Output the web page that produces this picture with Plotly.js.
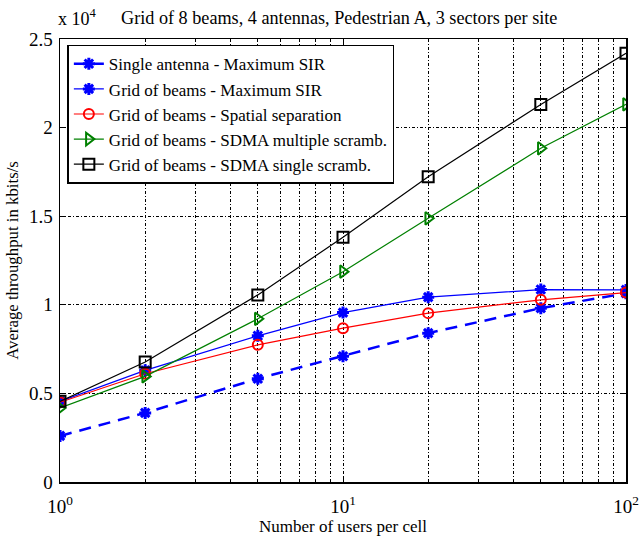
<!DOCTYPE html>
<html>
<head>
<meta charset="utf-8">
<script src="https://cdn.plot.ly/plotly-3.0.1.min.js"></script>
<style>html,body{margin:0;padding:0;background:#fff;}#chart{width:643px;height:536px;}</style>
</head>
<body>
<div id="chart"></div>
<script>
const users = [1, 2, 5, 10, 20, 50, 100];
const singleMaxSIR = [2600, 3900, 5830, 7100, 8400, 9810, 10650];
const gobMaxSIR = [4550, 6300, 8250, 9560, 10430, 10860, 10840];
const gobSpatial = [4500, 6110, 7740, 8680, 9530, 10280, 10690];
const gobSdmaMulti = [4180, 5960, 9210, 11870, 14880, 18830, 21310];
const gobSdmaSingle = [4550, 6770, 10560, 13810, 17220, 21310, 24200];
const seriesNames = [
  'Single antenna - Maximum SIR',
  'Grid of beams - Maximum SIR',
  'Grid of beams - Spatial separation',
  'Grid of beams - SDMA multiple scramb.',
  'Grid of beams - SDMA single scramb.'
];
const yTickVals = [0, 5000, 10000, 15000, 20000, 25000];
const yTickText = ['0', '0.5', '1', '1.5', '2', '2.5'];
const xTickVals = [1, 10, 100];
const xTickText = ['10<sup>0</sup>', '10<sup>1</sup>', '10<sup>2</sup>'];

const font = '"Liberation Serif", "Times New Roman", serif';
const gridDash = '3px,2px,1px,2px';
const traces = [
  {x: users, y: singleMaxSIR, name: seriesNames[0], mode: 'lines+markers',
   line: {color: '#0000ff', width: 2.5, dash: '12px,8px'},
   marker: {symbol: 'asterisk-open', size: 10, color: '#0000ff', line: {color: '#0000ff', width: 3}}},
  {x: users, y: gobMaxSIR, name: seriesNames[1], mode: 'lines+markers',
   line: {color: '#0000ff', width: 1.2},
   marker: {symbol: 'asterisk-open', size: 10, color: '#0000ff', line: {color: '#0000ff', width: 3}}},
  {x: users, y: gobSpatial, name: seriesNames[2], mode: 'lines+markers',
   line: {color: '#ff0000', width: 1.2},
   marker: {symbol: 'circle-open', size: 10, color: '#ff0000', line: {color: '#ff0000', width: 2}}},
  {x: users, y: gobSdmaMulti, name: seriesNames[3], mode: 'lines+markers',
   line: {color: '#008000', width: 1.2},
   marker: {symbol: 'triangle-right-open', size: 11, color: '#008000', line: {color: '#008000', width: 2}}},
  {x: users, y: gobSdmaSingle, name: seriesNames[4], mode: 'lines+markers',
   line: {color: '#000000', width: 1.2},
   marker: {symbol: 'square-open', size: 11, color: '#000000', line: {color: '#000000', width: 2}}}
];

const layout = {
  width: 643, height: 536,
  margin: {l: 60, r: 17, t: 38.5, b: 53.5},
  paper_bgcolor: '#fff', plot_bgcolor: '#fff',
  font: {family: font, size: 17, color: '#000'},
  showlegend: true,
  legend: {x: 0.013, y: 0.987, xanchor: 'left', yanchor: 'top',
           bgcolor: '#fff', bordercolor: '#000', borderwidth: 1.5,
           font: {family: font, size: 17, color: '#000'},
           tracegroupgap: 0, itemwidth: 30},
  xaxis: {type: 'log', range: [0, 2], tickvals: xTickVals, ticktext: xTickText,
          showline: true, linecolor: '#000', linewidth: 1.5, mirror: 'ticks',
          ticks: 'inside', ticklen: 5, tickcolor: '#000', ticklabelstandoff: 7,
          showgrid: true, gridcolor: '#000', griddash: gridDash, gridwidth: 1,
          minor: {tickvals: [2,3,4,5,6,7,8,9,20,30,40,50,60,70,80,90], showgrid: true,
                  gridcolor: '#000', griddash: gridDash, gridwidth: 1, ticks: 'inside', ticklen: 3, tickcolor: '#000'},
          zeroline: false,
          tickfont: {family: font, size: 19},
          title: {text: 'Number of users per cell', font: {family: font, size: 17}, standoff: 6}},
  yaxis: {range: [0, 25000], tickvals: yTickVals, ticktext: yTickText,
          showline: true, linecolor: '#000', linewidth: 1.5, mirror: 'ticks',
          ticks: 'inside', ticklen: 5, tickcolor: '#000', ticklabelstandoff: 2,
          showgrid: true, gridcolor: '#000', griddash: gridDash, gridwidth: 1,
          zeroline: false,
          tickfont: {family: font, size: 19},
          title: {text: 'Average throughput in kbits/s', font: {family: font, size: 16.8}, standoff: 6}},
  annotations: [
    {text: 'x 10<sup>4</sup>', xref: 'paper', yref: 'paper', x: 0.0, y: 1.0, xanchor: 'left', yanchor: 'bottom',
     xshift: -4, yshift: 8, showarrow: false, font: {family: font, size: 18}},
    {text: 'Grid of 8 beams, 4 antennas, Pedestrian A, 3 sectors per site', xref: 'paper', yref: 'paper',
     x: 0.493, y: 1.0, xanchor: 'center', yanchor: 'bottom', yshift: 9, showarrow: false,
     font: {family: font, size: 18.2}}
  ]
};

Plotly.newPlot('chart', traces, layout, {displayModeBar: false, staticPlot: true});
</script>
</body>
</html>
